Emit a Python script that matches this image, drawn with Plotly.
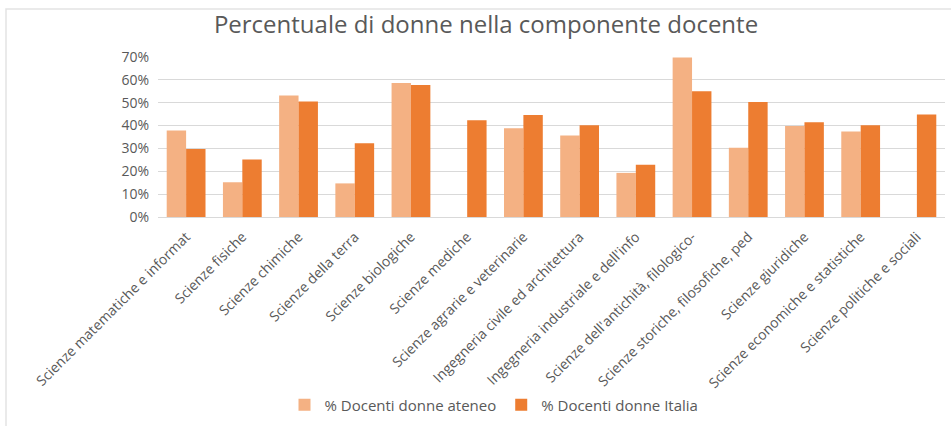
import plotly.graph_objects as go

categories = [
    "Scienze matematiche e informat",
    "Scienze fisiche",
    "Scienze chimiche",
    "Scienze della terra",
    "Scienze biologiche",
    "Scienze mediche",
    "Scienze agrarie e veterinarie",
    "Ingegneria civile ed architettura",
    "Ingegneria industriale e dell'info",
    "Scienze dell'antichità, filologico-",
    "Scienze storiche, filosofiche, ped",
    "Scienze giuridiche",
    "Scienze economiche e statistiche",
    "Scienze politiche e sociali",
]
ateneo = [0.378, 0.152, 0.532, 0.147, 0.586, None, 0.388, 0.357, 0.193, 0.698, 0.303, 0.398, 0.374, None]
italia = [0.297, 0.252, 0.505, 0.323, 0.577, 0.423, 0.446, 0.401, 0.229, 0.550, 0.503, 0.414, 0.401, 0.448]
tick_vals = [0, 0.1, 0.2, 0.3, 0.4, 0.5, 0.6, 0.7]
tick_text = ["0%", "10%", "20%", "30%", "40%", "50%", "60%", "70%"]

font_family = "Open Sans, Noto Sans, sans-serif"
gray = "#595959"

L, R, T, B = 158, 945, 57, 217
PW, PH = R - L, B - T

fig = go.Figure()
fig.add_trace(go.Bar(x=categories, y=ateneo, name="% Docenti donne ateneo",
                     marker=dict(color="#F4B183", line=dict(width=0))))
fig.add_trace(go.Bar(x=categories, y=italia, name="% Docenti donne Italia",
                     marker=dict(color="#ED7D31", line=dict(width=0))))

fig.update_layout(
    width=951, height=426,
    margin=dict(l=L, r=951 - R, t=T, b=426 - B, autoexpand=False),
    paper_bgcolor="white", plot_bgcolor="white",
    barmode="group", bargap=0.31, bargroupgap=0,
    title=dict(text="Percentuale di donne nella componente docente",
               x=486/951, xanchor="center", y=1-25/426, yanchor="middle",
               font=dict(family=font_family, size=24, color=gray)),
    font=dict(family=font_family, size=14, color=gray),
    showlegend=True,
    legend=dict(orientation="h", x=(494 - L)/PW, xanchor="center",
                y=(B - 405)/PH, yanchor="middle",
                font=dict(size=15, color=gray), traceorder="normal",
                itemwidth=30, tracegroupgap=0),
    xaxis=dict(tickangle=-45, showgrid=False, showline=False, ticks="",
               ticklabelstandoff=8,
               tickfont=dict(size=14, color=gray), automargin=False),
    yaxis=dict(range=[0, 0.7], tickvals=tick_vals, ticktext=tick_text,
               showgrid=True, gridcolor="#D9D9D9", gridwidth=1,
               zeroline=True, zerolinecolor="#D9D9D9", zerolinewidth=1,
               showline=False, ticks="", ticklabelstandoff=8,
               tickfont=dict(size=14, color=gray), automargin=False),
    shapes=[dict(type="rect", xref="paper", yref="paper",
                 x0=(6 - L)/PW, x1=(975 - L)/PW,
                 y0=(B - 440)/PH, y1=(B - 9)/PH,
                 line=dict(color="#E3E3E3", width=1.5), layer="below")],
)

fig.write_html("out.html",
               config={"displayModeBar": False},
               post_script="document.body.style.margin='0';document.body.style.padding='0';document.body.style.overflow='hidden';")
